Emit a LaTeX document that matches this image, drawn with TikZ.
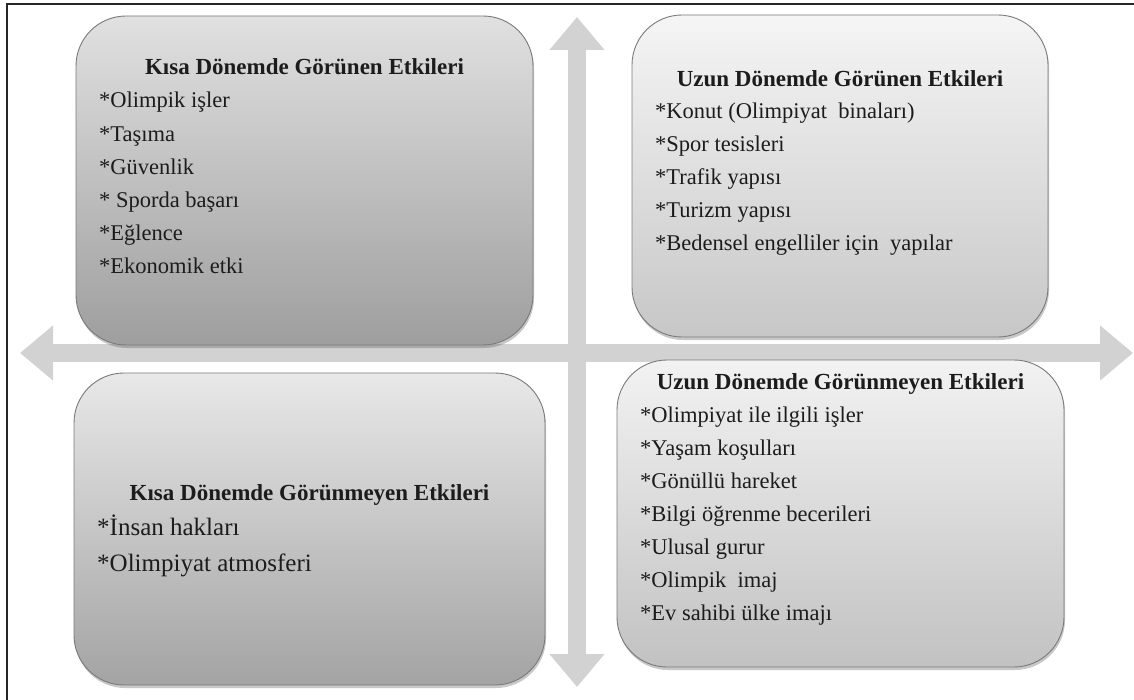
\documentclass[tikz,border=0pt]{standalone}
\usepackage{fontspec}
\setmainfont{Liberation Serif}
\usetikzlibrary{arrows.meta,shadows}
\definecolor{txt}{HTML}{1C1C1C}
\definecolor{axisgray}{HTML}{D2D2D2}
\definecolor{edgegray}{HTML}{7A7A7A}
\begin{document}
\begin{tikzpicture}[x=1pt,y=-1pt,
  panel/.style={rounded corners=50pt, draw=edgegray, line width=0.9pt, inner sep=0pt,
    drop shadow={shadow xshift=1pt,shadow yshift=-3pt,opacity=0.30,fill=black!70}},
  ttl/.style={font=\fontsize{23}{27}\selectfont\bfseries, text=txt, inner sep=0pt, anchor=base},
  itm/.style={font=\fontsize{22.5}{27}\selectfont, text=txt, inner sep=0pt, anchor=base west},
  itmbig/.style={itm, font=\fontsize{25}{29}\selectfont},
  axis/.style={line width=18pt, draw=axisgray,
    {Triangle[length=33pt,width=53pt]}-{Triangle[length=33pt,width=53pt]}}
]
\useasboundingbox (0,0) rectangle (1134,700);
\fill[white] (0,0) rectangle (1134,700);
% frame (top and left)
\draw[line width=1.5pt, black!85] (7,700) -- (7,4) -- (1134,4);

% axes
\coordinate (hl) at (20,353);
\coordinate (hr) at (1133,353);
\coordinate (vt) at (577,17);
\coordinate (vb) at (577,687);
\draw[axis] (hl) -- (hr);
\draw[axis] (vt) -- (vb);

% panels
\node (tl) [panel, top color=black!12, bottom color=black!38, minimum width=457pt, minimum height=329pt] at (304.5,180.5) {};
\node (tr) [panel, top color=black!4, bottom color=black!22, minimum width=416pt, minimum height=322pt] at (840,176) {};
\node (bl) [panel, top color=black!9, bottom color=black!36, minimum width=471pt, minimum height=312pt] at (309.5,529) {};
\node (br) [panel, top color=black!5, bottom color=black!24, minimum width=447pt, minimum height=307pt] at (840.5,513.5) {};

% titles
\node[ttl] (tlt) at (304.5,75) {Kısa Dönemde Görünen Etkileri};
\node[ttl] (trt) at (840,87) {Uzun Dönemde Görünen Etkileri};
\node[ttl] (blt) at (309.5,500) {Kısa Dönemde Görünmeyen Etkileri};
\node[ttl] (brt) at (840.5,389) {Uzun Dönemde Görünmeyen Etkileri};

% items
\foreach [count=\i] \t in {{*Olimpik işler},{*Taşıma},{*Güvenlik},{*\ Sporda başarı},{*Eğlence},{*Ekonomik etki}}
  \node[itm] (tli\i) at (99,{108+33.2*(\i-1)}) {\t};
\foreach [count=\i] \t in {{*Konut (Olimpiyat\ \ binaları)},{*Spor tesisleri},{*Trafik yapısı},{*Turizm yapısı},{*Bedensel engelliler için\ \ yapılar}}
  \node[itm] (tri\i) at (655,{119+32.8*(\i-1)}) {\t};
\foreach [count=\i] \t in {{*İnsan hakları},{*Olimpiyat atmosferi}}
  \node[itmbig] (bli\i) at (97,{535+36*(\i-1)}) {\t};
\foreach [count=\i] \t in {{*Olimpiyat ile ilgili işler},{*Yaşam koşulları},{*Gönüllü hareket},{*Bilgi öğrenme becerileri},{*Ulusal gurur},{*Olimpik\ \ imaj},{*Ev sahibi ülke imajı}}
  \node[itm] (bri\i) at (640,{422+33*(\i-1)}) {\t};
\end{tikzpicture}
\end{document}
